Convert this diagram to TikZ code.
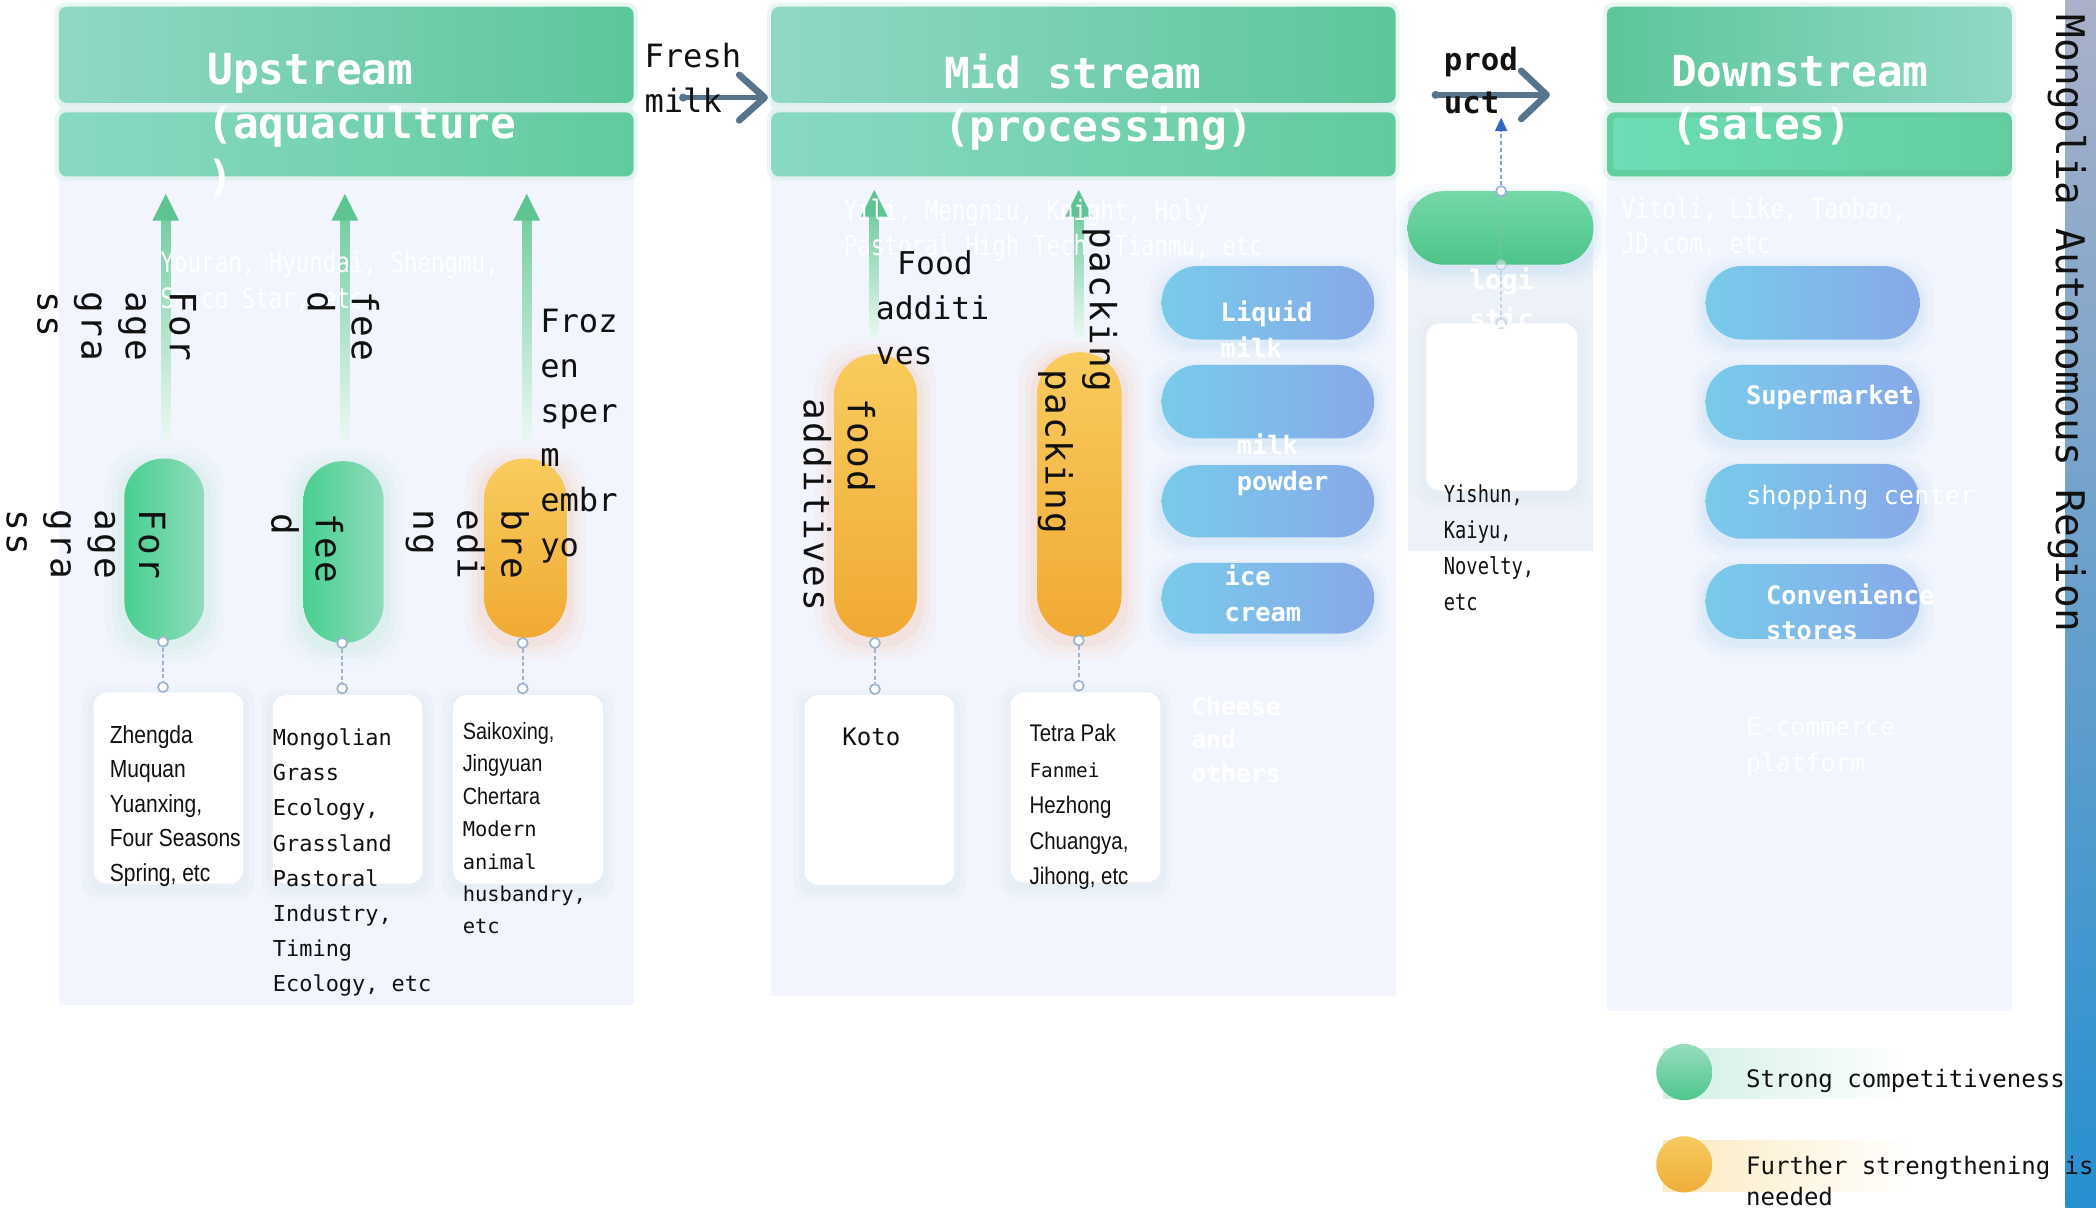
\documentclass[tikz,border=0pt]{standalone}
\usepackage{fontspec}
\setmainfont{DejaVu Sans Mono}
\newfontfamily\monofam{DejaVu Sans Mono}
\newfontfamily\vmonofam[LetterSpace=6]{DejaVu Sans Mono}
\newfontfamily\nmonofam[FakeStretch=0.8]{DejaVu Sans Mono}
\newfontfamily\npropfam[FakeStretch=0.85]{Liberation Sans}
\usetikzlibrary{calc,arrows.meta}
\pgfdeclarelayer{back}
\pgfdeclarelayer{glow}
\pgfsetlayers{back,glow,main}

\definecolor{ink}{HTML}{111111}
\definecolor{panel}{HTML}{F2F5FD}
\definecolor{lgpanel}{HTML}{EDF1F8}
\definecolor{hdrA}{HTML}{8FD8C5}
\definecolor{hdrB}{HTML}{5DC69A}
\definecolor{hdrC}{HTML}{88D9C3}
\definecolor{hdrD}{HTML}{62CB9E}
\definecolor{hdrE}{HTML}{63CFA0}
\definecolor{hdrF}{HTML}{6CDDB5}
\definecolor{glowG}{HTML}{BFEBD6}
\definecolor{capG1}{HTML}{48CF90}
\definecolor{capG2}{HTML}{90DCBC}
\definecolor{capO1}{HTML}{F1A933}
\definecolor{capO2}{HTML}{F8CC5E}
\definecolor{glowO}{HTML}{F8C9B4}
\definecolor{pillL}{HTML}{78CBEB}
\definecolor{pillR}{HTML}{87A9E8}
\definecolor{glowB}{HTML}{BFDDF4}
\definecolor{conn}{HTML}{9DB5D1}
\definecolor{slate}{HTML}{56758C}
\definecolor{arrG}{HTML}{5EC592}
\definecolor{blueTip}{HTML}{2F66C0}
\definecolor{lgDash}{HTML}{86A3CF}
\definecolor{lgG1}{HTML}{74D8A7}
\definecolor{lgG2}{HTML}{4DC489}
\definecolor{stripTop}{HTML}{AAB0C8}
\definecolor{stripMid}{HTML}{6A9DCB}
\definecolor{stripBot}{HTML}{2690D0}
\definecolor{shadowC}{HTML}{E2EAF2}
\definecolor{legG1}{HTML}{96DDBF}
\definecolor{legG2}{HTML}{4DC68C}
\definecolor{legO1}{HTML}{F7CA5F}
\definecolor{legO2}{HTML}{F0AD3A}

\tikzset{
  hdrbar/.style={rectangle, rounded corners=6pt, inner sep=0pt, draw=none},
  capsule/.style={rectangle, rounded corners=29.5pt, minimum width=60pt, inner sep=0pt},
  cardbox/.style={rectangle, fill=white, rounded corners=10pt, inner sep=0pt, minimum width=112pt},
  pillbox/.style={rectangle, rounded corners=27pt, minimum width=160pt, minimum height=55pt, inner sep=0pt},
  cdot/.style={circle, fill=white, draw=conn, line width=1.3pt, minimum size=7.5pt, inner sep=0pt},
  dline/.style={draw=conn, line width=1.3pt, dash pattern=on 3pt off 2pt},
  vtxt/.style={rotate=-90, anchor=north west, inner sep=0pt, align=left, text=ink, font={\vmonofam\fontsize{27}{33}\selectfont}},
  txt/.style={anchor=north west, inner sep=0pt, align=left},
  ttl/.style={txt, text=white, font={\monofam\bfseries\fontsize{32}{40}\selectfont}},
  wtxt/.style={txt, text=white, font={\nmonofam\fontsize{21}{26.5}\selectfont}},
  ptxt/.style={txt, text=white, font={\monofam\bfseries\fontsize{19}{27}\selectfont}},
  prtxt/.style={txt, text=white, font={\monofam\fontsize{19}{27}\selectfont}},
}

\newcommand{\grnarrow}[2]{%
  \shade[top color=arrG!85, bottom color=arrG!12] ($(#1)+(-3.5,0)$) rectangle ($(#2)+(3.5,19)$);
  \fill[arrG] ($(#2)+(-10,20)$) -- (#2) -- ($(#2)+(10,20)$) -- cycle;}

\begin{document}
\begin{tikzpicture}[x=1pt,y=-1pt]
\useasboundingbox (0,0) rectangle (1568,903);
\begin{pgfonlayer}{back}
\fill[white] (0,0) rectangle (1568,903);
\fill[panel] (44,5) rectangle (474,752);
\fill[panel] (577,5) rectangle (1044,745);
\fill[panel] (1202,5) rectangle (1505,756);
\fill[lgpanel] (1053,150) rectangle (1192,412);
\end{pgfonlayer}

% ---------- headers
\node[hdrbar, left color=hdrA, right color=hdrB, minimum width=430pt, minimum height=72pt] (uh1) at (259,41) {};
\node[hdrbar, left color=hdrC, right color=hdrD, minimum width=430pt, minimum height=48pt] (uh2) at (259,108) {};
\node[hdrbar, left color=hdrA, right color=hdrB, minimum width=467pt, minimum height=72pt] (mh1) at (810.5,41) {};
\node[hdrbar, left color=hdrC, right color=hdrD, minimum width=467pt, minimum height=48pt] (mh2) at (810.5,108) {};
\node[hdrbar, left color=hdrB, right color=hdrA, minimum width=303pt, minimum height=72pt] (dh1) at (1353.5,41) {};
\node[hdrbar, left color=hdrE, right color=hdrD, minimum width=303pt, minimum height=48pt] (dh2) at (1353.5,108) {};
\node[hdrbar, rounded corners=3pt, left color=hdrF, right color=hdrE, minimum width=295pt, minimum height=39pt] (dh3) at (1354.5,107.5) {};

% ---------- slate arrows
\coordinate (fmS) at (511,73);
\coordinate (fmE) at (572,73);
\draw[slate, line width=4pt] (fmS) -- ($(fmE)+(-4,0)$);
\draw[slate, line width=5pt, line cap=round, line join=round] ($(fmE)+(-19,-17)$) -- (fmE) -- ($(fmE)+(-19,17)$);
\fill[slate] (fmS) circle (3pt);
\coordinate (pdS) at (1074,71);
\coordinate (pdE) at (1157,71);
\draw[slate, line width=4pt] (pdS) -- ($(pdE)+(-4,0)$);
\draw[slate, line width=5pt, line cap=round, line join=round] ($(pdE)+(-19,-18)$) -- (pdE) -- ($(pdE)+(-19,18)$);
\fill[slate] (pdS) circle (3pt);

% ---------- green arrows
\coordinate (ga1b) at (124,329); \coordinate (ga1t) at (124,145);
\coordinate (ga2b) at (258,329); \coordinate (ga2t) at (258,145);
\coordinate (ga3b) at (394,329); \coordinate (ga3t) at (394,145);
\coordinate (ga4b) at (654,253); \coordinate (ga4t) at (654,142);
\coordinate (ga5b) at (807,253); \coordinate (ga5t) at (807,142);
\grnarrow{ga1b}{ga1t}
\grnarrow{ga2b}{ga2t}
\grnarrow{ga3b}{ga3t}
\grnarrow{ga4b}{ga4t}
\grnarrow{ga5b}{ga5t}

% ---------- capsules
\node[capsule, left color=capG1, right color=capG2, minimum height=136pt] (cu1) at (123,411) {};
\node[capsule, left color=capG1, right color=capG2, minimum height=136pt] (cu2) at (257,413) {};
\node[capsule, top color=capO2, bottom color=capO1, minimum width=62pt, rounded corners=30.5pt, minimum height=134pt] (cu3) at (393,410) {};
\node[capsule, top color=capO2, bottom color=capO1, minimum width=62pt, rounded corners=30.5pt, minimum height=212pt] (cm1) at (655,371) {};
\node[capsule, top color=capO2, bottom color=capO1, minimum width=63pt, rounded corners=31pt, minimum height=213pt] (cm2) at (807.5,370) {};

% ---------- pills
\node[pillbox, left color=pillL, right color=pillR, minimum width=159pt] (pm1) at (948.5,226.5) {};
\node[pillbox, left color=pillL, right color=pillR, minimum width=159pt] (pm2) at (948.5,300.5) {};
\node[pillbox, left color=pillL, right color=pillR, minimum width=159pt, minimum height=54pt] (pm3) at (948.5,375) {};
\node[pillbox, left color=pillL, right color=pillR, minimum width=159pt, minimum height=53pt, rounded corners=26pt] (pm4) at (948.5,447.5) {};
\node[pillbox, left color=pillL, right color=pillR] (pd1) at (1356,226.5) {};
\node[pillbox, left color=pillL, right color=pillR, minimum height=56pt] (pd2) at (1356,301) {};
\node[pillbox, left color=pillL, right color=pillR, minimum height=56pt] (pd3) at (1356,375) {};
\node[pillbox, left color=pillL, right color=pillR, minimum height=56pt] (pd4) at (1356,450) {};
\node[pillbox, top color=lgG1, bottom color=lgG2, minimum width=139pt] (lp) at (1122.5,170.5) {};

% ---------- cards
\node[cardbox, minimum height=143pt] (ku1) at (126,589.5) {};
\node[cardbox, minimum height=141pt] (ku2) at (260,590.5) {};
\node[cardbox, minimum height=141pt] (ku3) at (395,590.5) {};
\node[cardbox, minimum height=142pt] (km1) at (658,591) {};
\node[cardbox, minimum height=142pt] (km2) at (812,589) {};
\node[cardbox, minimum width=113pt, minimum height=125pt] (lk) at (1123.5,304.5) {};

% ---------- soft glows and shadows
\begin{pgfonlayer}{glow}
\foreach \n in {uh1,uh2,mh1,mh2,dh1,dh2}{
  \fill[glowG, opacity=.35, rounded corners=8pt] ($(\n.south west)+(-3,3)$) rectangle ($(\n.north east)+(3,-3)$);}
\foreach \n in {cu1,cu2}{
  \foreach \d/\o in {14/.10,9/.14,5/.2}{
    \fill[glowG, opacity=\o, rounded corners=30pt] ($(\n.south west)+(-\d,\d+2)$) rectangle ($(\n.north east)+(\d,-\d+6)$);}}
\foreach \n in {cu3,cm1,cm2}{
  \foreach \d/\o in {14/.10,9/.14,5/.2}{
    \fill[glowO, opacity=\o, rounded corners=30pt] ($(\n.south west)+(-\d,\d+2)$) rectangle ($(\n.north east)+(\d,-\d+6)$);}}
\foreach \n in {pm1,pm2,pm3,pm4,pd1,pd2,pd3,pd4,lp}{
  \foreach \d/\o in {10/.10,6/.15,3/.2}{
    \fill[glowB, opacity=\o, rounded corners=27pt] ($(\n.south west)+(-\d,\d+3)$) rectangle ($(\n.north east)+(\d,-\d+5)$);}}
\foreach \n in {ku1,ku2,ku3,km1,km2,lk}{
  \foreach \d/\o in {8/.25,4/.4}{
    \fill[shadowC, opacity=\o, rounded corners=12pt] ($(\n.south west)+(-\d,\d+3)$) rectangle ($(\n.north east)+(\d,-\d+4)$);}}
\shade[left color=legG1!45, right color=white] (1244,784) rectangle (1430,822);
\shade[left color=legO1!40, right color=white] (1244,853) rectangle (1430,891);
\end{pgfonlayer}

% ---------- connectors
\node[cdot] (du1a) at (122,480) {}; \node[cdot] (du1b) at (122,514) {};
\node[cdot] (du2a) at (256,481) {}; \node[cdot] (du2b) at (256,515) {};
\node[cdot] (du3a) at (391,481) {}; \node[cdot] (du3b) at (391,515) {};
\node[cdot] (dm1a) at (654.5,481) {}; \node[cdot] (dm1b) at (654.5,515.5) {};
\node[cdot] (dm2a) at (807,479) {}; \node[cdot] (dm2b) at (807,513) {};
\draw[dline] (du1a) -- (du1b);
\draw[dline] (du2a) -- (du2b);
\draw[dline] (du3a) -- (du3b);
\draw[dline] (dm1a) -- (dm1b);
\draw[dline] (dm2a) -- (dm2b);

\node[cdot] (ldA) at (1123,143) {};
\node[cdot, opacity=.45] (ldB) at (1123,198) {};
\node[cdot, opacity=.45] (ldC) at (1123,242) {};
\coordinate (ldT) at (1123,88);
\draw[dline, draw=lgDash, -{Triangle[length=10pt,width=9pt,color=blueTip]}] (ldA) -- (ldT);
\draw[dline, opacity=.35] (ldA) -- (ldB);
\draw[dline, opacity=.45] (ldB) -- (ldC);

% ---------- white texts
\node[wtxt, font={\nmonofam\fontsize{21}{27}\selectfont}] (wU) at (120,187.5) {Youran, Hyundai, Shengmu,\\Saico Star, etc};
\node[wtxt, font={\nmonofam\fontsize{21}{26}\selectfont}] (wM) at (631,148.5) {Yili, Mengniu, Knight, Holy\\Pastoral High Tech, Tianmu, etc};
\node[wtxt, font={\nmonofam\fontsize{21}{26}\selectfont}] (wD) at (1213,147.5) {Vitoli, Like, Taobao,\\JD.com, etc};
\node[ptxt] (tLiq) at (913,225) {Liquid\\milk};
\node[ptxt] (tPow) at (925,324) {milk\\powder};
\node[ptxt] (tIce) at (916,422) {ice\\cream};
\node[ptxt, font={\monofam\bfseries\fontsize{18.5}{25}\selectfont}] (tChe) at (891,521) {Cheese\\and\\others};
\node[ptxt] (tSup) at (1306,288) {Supermarket};
\node[prtxt] (tSho) at (1306,363) {shopping center};
\node[ptxt, font={\monofam\bfseries\fontsize{19}{26.5}\selectfont}] (tCon) at (1321,436.5) {Convenience\\stores};
\node[prtxt, font={\monofam\fontsize{18.5}{27}\selectfont}] (tEco) at (1306,536.5) {E-commerce\\platform};
\node[ptxt, font={\monofam\bfseries\fontsize{20}{29}\selectfont}] (tLog) at (1099,200) {logi\\stic};

% ---------- black texts
\node[txt, text=ink, font={\monofam\fontsize{24}{34}\selectfont}] (tFresh) at (482,32) {Fresh\\milk};
\node[txt, text=ink, font={\monofam\bfseries\fontsize{23}{32.5}\selectfont}] (tProd) at (1080,35) {prod\\uct};
\node[txt, text=ink, font={\monofam\fontsize{24}{33.5}\selectfont}] (tFroz) at (404,231) {Froz\\en\\sper\\m\\embr\\yo};
\node[txt, text=ink, font={\monofam\fontsize{23.5}{33.5}\selectfont}] (tFood) at (655,187.5) {\hspace*{16pt}Food\\additi\\ves};
\node[vtxt] (vfor1) at (147,218) {For\\age\\gra\\ss};
\node[vtxt] (vfor2) at (124,381) {For\\age\\gra\\ss};
\node[vtxt] (vfee1) at (284,218) {fee\\d};
\node[vtxt] (vfee2) at (257,384) {fee\\d};
\node[vtxt] (vbre) at (396,381) {bre\\edi\\ng};
\node[vtxt] (vfood) at (655,298) {food\\additives};
\node[vtxt] (vpack1) at (836,170) {packing};
\node[vtxt] (vpack2) at (803,276) {packing};

% card texts
\node[txt, text=ink, font={\npropfam\fontsize{18.5}{25.8}\selectfont}] (tc1) at (82,542.5) {Zhengda\\Muquan\\Yuanxing,\\Four Seasons\\Spring, etc};
\node[txt, text=ink, font={\monofam\fontsize{16.4}{26.3}\selectfont}] (tc2) at (204,545) {Mongolian\\Grass\\Ecology,\\Grassland\\Pastoral\\Industry,\\Timing\\Ecology, etc};
\node[txt, text=ink, font={\monofam\fontsize{15.3}{24.3}\selectfont}] (tc3) at (346,540) {{\npropfam\fontsize{17.5}{24.3}\selectfont Saikoxing,}\\{\npropfam\fontsize{17.5}{24.3}\selectfont Jingyuan}\\{\npropfam\fontsize{17.5}{24.3}\selectfont Chertara}\\Modern\\animal\\husbandry,\\etc};
\node[txt, text=ink, font={\monofam\fontsize{18}{26}\selectfont}] (tc4) at (630,544.5) {Koto};
\node[txt, text=ink, font={\npropfam\fontsize{18}{26.8}\selectfont}] (tc5) at (770,541.5) {Tetra Pak\\{\monofam\fontsize{14.5}{26.8}\selectfont Fanmei}\\Hezhong\\Chuangya,\\Jihong, etc};
\node[txt, text=ink, font={\nmonofam\fontsize{17.5}{27}\selectfont}] (tc6) at (1080,362.5) {Yishun,\\Kaiyu,\\Novelty,\\etc};

% ---------- titles
\node[ttl] (tU) at (155,40) {Upstream\\(aquaculture\\)};
\node[ttl] (tM) at (706,40) {Mid stream\\(processing)};
\node[ttl] (tD) at (1250,41) {Downstream\\(sales)};

% ---------- right strip and legend
\shade[top color=stripTop, middle color=stripMid, bottom color=stripBot] (1545,0) rectangle (1568,903);
\node[rotate=-90, anchor=north west, inner sep=0pt, text=ink, font={\monofam\fontsize{29.5}{30}\selectfont}] (tReg) at (1561,11) {Mongolia Autonomous Region};
\node[circle, minimum size=42pt, inner sep=0pt, top color=legG1, bottom color=legG2] (legG) at (1260,802) {};
\node[circle, minimum size=42pt, inner sep=0pt, top color=legO1, bottom color=legO2] (legO) at (1260,871) {};
\node[txt, text=ink, font={\monofam\fontsize{18}{23}\selectfont}] (tLegG) at (1306,800) {Strong competitiveness};
\node[txt, text=ink, font={\monofam\fontsize{18}{23}\selectfont}] (tLegO) at (1306,865) {Further strengthening is\\needed};
\end{tikzpicture}
\end{document}
